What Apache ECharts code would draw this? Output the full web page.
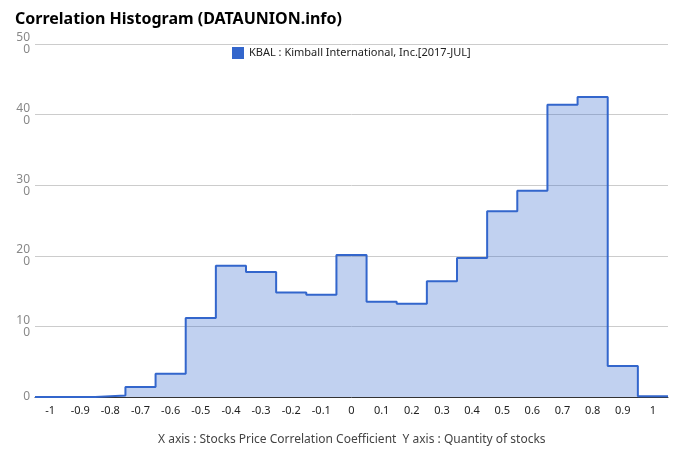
<!DOCTYPE html>
<html>
<head>
<meta charset="utf-8">
<script src="https://cdn.jsdelivr.net/npm/echarts@6/dist/echarts.min.js"></script>
<style>
  html, body { margin: 0; padding: 0; background: #fff; }
  #chart { width: 680px; height: 462px; }
</style>
</head>
<body>
<div id="chart"></div>
<script>
// bin centers (correlation coefficient) and stock counts per bin
const binCenters = [-1, -0.9, -0.8, -0.7, -0.6, -0.5, -0.4, -0.3, -0.2, -0.1, 0,
  0.1, 0.2, 0.3, 0.4, 0.5, 0.6, 0.7, 0.8, 0.9, 1];
const counts = [0, 0, 2, 14, 33, 112, 186, 177, 148, 145, 201,
  135, 132, 164, 197, 263, 292, 414, 425, 44, 1];
const xTicks = binCenters;
const yTicks = [0, 100, 200, 300, 400, 500];
const seriesName = 'KBAL : Kimball International, Inc.[2017-JUL]';
const binHalf = 0.05;

// each bin drawn as a flat step from its left edge to its right edge
const stepData = binCenters.map((c, i) => [c - binHalf, counts[i]]);
stepData.push([binCenters[binCenters.length - 1] + binHalf, counts[counts.length - 1]]);

const chart = echarts.init(document.getElementById('chart'));
chart.setOption({
  animation: false,
  title: [
    {
      text: 'Correlation Histogram (DATAUNION.info)',
      left: 10,
      top: 6,
      textStyle: { fontSize: 16, fontWeight: 'bold', color: '#000', fontFamily: 'Noto Sans' },
    },
    {
      text: 'X axis : Stocks Price Correlation Coefficient  Y axis : Quantity of stocks',
      left: 153,
      top: 429,
      textStyle: { fontSize: 12, fontWeight: 'normal', color: '#444', fontFamily: 'Noto Sans' },
    },
  ],
  legend: {
    top: 42,
    left: 227,
    icon: 'rect',
    itemWidth: 12,
    itemHeight: 12,
    itemGap: 6,
    textStyle: { fontSize: 11, color: '#222', fontFamily: 'Noto Sans' },
    data: [seriesName],
  },
  grid: { left: 35, right: 12, top: 44, bottom: 65 },
  xAxis: {
    type: 'value',
    min: binCenters[0] - binHalf,
    max: binCenters[binCenters.length - 1] + binHalf,
    axisLine: { show: true, lineStyle: { color: '#333', width: 1 } },
    axisTick: { show: false },
    splitLine: { show: false },
    axisLabel: {
      customValues: xTicks,
      color: '#222',
      fontSize: 11,
      margin: 8,
      fontFamily: 'Noto Sans',
      formatter: (v) => String(Math.round(v * 10) / 10),
    },
  },
  yAxis: {
    type: 'value',
    min: yTicks[0],
    max: yTicks[yTicks.length - 1],
    interval: 100,
    axisLine: { show: false },
    axisTick: { show: false },
    splitLine: { lineStyle: { color: '#ccc' } },
    axisLabel: {
      color: '#888',
      fontSize: 12,
      lineHeight: 12,
      margin: 5,
      fontFamily: 'Noto Sans',
      formatter: (v) => {
        const s = String(v);
        return v === 0 ? s : s.slice(0, -1) + '\n' + s.slice(-1);
      },
    },
  },
  series: [{
    name: seriesName,
    type: 'line',
    step: 'end',
    data: stepData,
    showSymbol: false,
    symbol: 'none',
    itemStyle: { color: '#3366cc' },
    lineStyle: { color: '#3366cc', width: 2 },
    areaStyle: { color: '#3366cc', opacity: 0.3 },
  }],
});
</script>
</body>
</html>
